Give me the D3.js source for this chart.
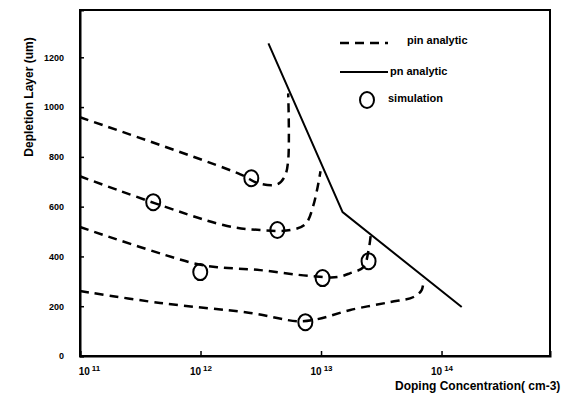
<!DOCTYPE html>
<html lang="en">
<head>
<meta charset="utf-8">
<title>Depletion Layer vs Doping Concentration</title>
<script src="https://cdn.jsdelivr.net/npm/d3@7"></script>
<style>
  body { margin: 0; background: #fff; }
  text { font-family: "Liberation Sans", Arial, sans-serif; font-weight: bold; fill: #000; }
</style>
</head>
<body>
<script>
// doping concentration (cm-3) and depletion layer (um)
var pin1Conc = [1e11, 2.14e12, 3.0e12, 4.36e12, 5.0e12, 5.34e12, 5.34e12];
var pin1Depth = [959, 730, 694, 690, 722, 786, 1055];
var pin2Conc = [1e11, 1.545e12, 3.13e12, 5.57e12, 7.41e12, 8.65e12, 9.9e12];
var pin2Depth = [722, 526, 506, 506, 530, 606, 742];
var pin3Conc = [1e11, 8.69e11, 1.38e12, 3.13e12, 8.17e12, 1.37e13, 1.75e13, 2.25e13, 2.48e13, 2.58e13];
var pin3Depth = [518, 373, 357, 345, 321, 317, 333, 357, 425, 482];
var pin4Conc = [1e11, 4.62e11, 2.59e12, 6.37e12, 9.33e12, 1.75e13, 3.78e13, 5.86e13, 6.84e13, 7.1e13];
var pin4Depth = [261, 213, 173, 140, 148, 185, 217, 237, 265, 309];
var pnConc = [3.66e12, 1.51e13, 1.47e14];
var pnDepth = [1256, 578, 197];
var simConc = [2.64e12, 4.05e11, 4.34e12, 9.95e11, 1.03e13, 2.48e13, 7.41e12];
var simDepth = [714, 618, 506, 337, 313, 381, 136];

var xTicks = [1e11, 1e12, 1e13, 1e14];
var xTickExp = ["11", "12", "13", "14"];
var yTicks = [0, 200, 400, 600, 800, 1000, 1200];

var w = 582, h = 394;
var plotL = 80, plotR = 550, plotT = 10, plotB = 356;

var svg = d3.select("body").append("svg")
	.attr("width", w)
	.attr("height", h);

var x = d3.scaleLog().domain([1e11, Math.pow(10, 14.9)]).range([plotL, plotR]);
var y = d3.scaleLinear().domain([0, 1390]).range([plotB, plotT]);

function zip(a, b) {
	return a.map(function(v, i) { return [v, b[i]]; });
}

// frame
svg.append("rect")
	.attr("x", plotL).attr("y", plotT)
	.attr("width", plotR - plotL).attr("height", plotB - plotT)
	.attr("fill", "none").attr("stroke", "#000").attr("stroke-width", 2);

// x axis
var xAxis = d3.axisBottom(x).tickValues(xTicks).tickSize(-5).tickPadding(12).tickFormat("");
var gx = svg.append("g")
	.attr("transform", "translate(0," + plotB + ")")
	.call(xAxis);
gx.select(".domain").attr("stroke-width", 2);
gx.selectAll(".tick line").attr("stroke-width", 1.5);
gx.selectAll(".tick text")
	.attr("font-size", 10)
	.each(function(d, i) {
		var t = d3.select(this);
		t.append("tspan").text("10");
		t.append("tspan").attr("dy", "-0.5em").attr("dx", "2").attr("font-size", 8).text(xTickExp[i]);
	});
gx.select(".tick text").attr("dx", 9);

// y axis
var yAxis = d3.axisLeft(y).tickValues(yTicks).tickSize(-4).tickPadding(16).tickFormat(d3.format("d"));
var gy = svg.append("g")
	.attr("transform", "translate(" + plotL + ",0)")
	.call(yAxis);
gy.select(".domain").attr("stroke-width", 2);
gy.selectAll(".tick line").attr("stroke-width", 1.5);
gy.selectAll(".tick text").attr("font-size", 9).attr("font-family", "Liberation Sans, Arial, sans-serif").attr("font-weight", "bold");

// axis titles
svg.append("text")
	.attr("transform", "translate(29,97) rotate(-90)")
	.attr("text-anchor", "middle")
	.attr("dominant-baseline", "central")
	.attr("font-size", 12)
	.text("Depletion Layer (um)");

svg.append("text")
	.attr("x", 395).attr("y", 390)
	.attr("font-size", 12)
	.text("Doping Concentration( cm-3)");

// curves
var line = d3.line()
	.x(function(d) { return x(d[0]); })
	.y(function(d) { return y(d[1]); })
	.curve(d3.curveCatmullRom.alpha(0.5));

var pinSeries = [zip(pin1Conc, pin1Depth), zip(pin2Conc, pin2Depth), zip(pin3Conc, pin3Depth), zip(pin4Conc, pin4Depth)];

svg.selectAll(".pin")
	.data(pinSeries)
	.enter()
	.append("path")
	.attr("class", "pin")
	.attr("d", line)
	.attr("fill", "none")
	.attr("stroke", "#000")
	.attr("stroke-width", 2.5)
	.attr("stroke-dasharray", "9,6");

svg.append("path")
	.datum(zip(pnConc, pnDepth))
	.attr("d", d3.line().x(function(d) { return x(d[0]); }).y(function(d) { return y(d[1]); }))
	.attr("fill", "none")
	.attr("stroke", "#000")
	.attr("stroke-width", 2);

svg.selectAll(".sim")
	.data(zip(simConc, simDepth))
	.enter()
	.append("ellipse")
	.attr("class", "sim")
	.attr("cx", function(d) { return x(d[0]); })
	.attr("cy", function(d) { return y(d[1]); })
	.attr("rx", 7)
	.attr("ry", 8)
	.attr("fill", "none")
	.attr("stroke", "#000")
	.attr("stroke-width", 2);

// legend
var lg = svg.append("g");
lg.append("line").attr("x1", 340).attr("x2", 388).attr("y1", 43).attr("y2", 43)
	.attr("stroke", "#000").attr("stroke-width", 2.5).attr("stroke-dasharray", "9,6");
lg.append("text").attr("x", 407).attr("y", 44).attr("font-size", 11).text("pin analytic");
lg.append("line").attr("x1", 340).attr("x2", 388).attr("y1", 72).attr("y2", 72)
	.attr("stroke", "#000").attr("stroke-width", 2);
lg.append("text").attr("x", 390).attr("y", 75).attr("font-size", 11).text("pn analytic");
lg.append("ellipse").attr("cx", 367).attr("cy", 100).attr("rx", 7).attr("ry", 8)
	.attr("fill", "none").attr("stroke", "#000").attr("stroke-width", 2);
lg.append("text").attr("x", 388).attr("y", 102).attr("font-size", 11).text("simulation");
</script>
</body>
</html>
